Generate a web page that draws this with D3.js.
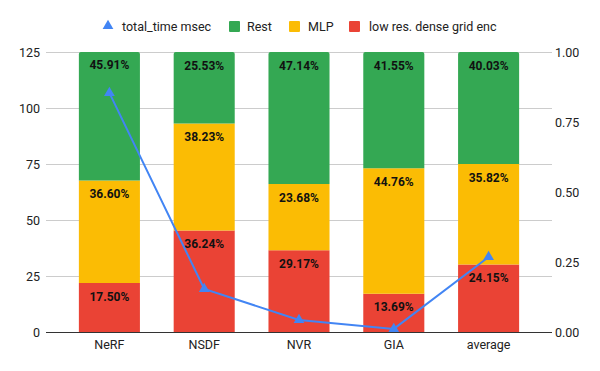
<!DOCTYPE html>
<html><head><meta charset="utf-8">
<script src="https://cdnjs.cloudflare.com/ajax/libs/d3/7.8.5/d3.min.js"></script>
<style>body{margin:0;background:#fff}svg{display:block}</style>
</head><body><svg id="c" width="600" height="371"></svg>
<script>
const categories = ["NeRF","NSDF","NVR","GIA","average"];
const gridEnc = [17.50,36.24,29.17,13.69,24.15];
const mlp = [36.60,38.23,23.68,44.76,35.82];
const rest = [45.91,25.53,47.14,41.55,40.03];
const totalTime = [0.854,0.154,0.043,0.011,0.268];
const leftTicks = [0,25,50,75,100,125];
const rightTicks = [0,0.25,0.5,0.75,1.0];
const seriesNames = ["total_time msec","Rest","MLP","low res. dense grid enc"];
const colors = {grid:"#ea4335", mlp:"#fbbc04", rest:"#34a853", line:"#4285f4"};

(function(){
const svg = d3.select("#c");
const pl=46, pr=552, pt=52, pb=332;
const x = d3.scaleBand().domain(categories).range([62,536]).paddingInner(0.356).paddingOuter(0.178);
const yAxisScale = d3.scaleLinear().domain([0,125]).range([pb,pt]);
const yPct = d3.scaleLinear().domain([0,100]).range([pb,pt]);
const yR = d3.scaleLinear().domain([0,1]).range([pb,pt]);
const font = "Roboto, Arial, sans-serif";

svg.append("g").selectAll("line").data(leftTicks.slice(1)).join("line")
  .attr("x1",pl).attr("x2",pr)
  .attr("y1",d=>yAxisScale(d)+0.5).attr("y2",d=>yAxisScale(d)+0.5)
  .attr("stroke","#cccccc").attr("stroke-width",1);

const la = d3.axisLeft(yAxisScale).tickValues(leftTicks).tickSize(0).tickPadding(0);
svg.append("g").attr("transform",`translate(40,0)`).call(la)
  .call(g=>g.select(".domain").remove())
  .call(g=>g.selectAll("text").attr("font-family",font).attr("font-size",12.5).attr("fill","#222"));
const ra = d3.axisRight(yR).tickValues(rightTicks).tickFormat(d3.format(".2f")).tickSize(0).tickPadding(0);
svg.append("g").attr("transform",`translate(555,0)`).call(ra)
  .call(g=>g.select(".domain").remove())
  .call(g=>g.selectAll("text").attr("font-family",font).attr("font-size",12.5).attr("fill","#222"));

const rows = categories.map((c,i)=>({cat:c, grid:gridEnc[i], mlp:mlp[i], rest:rest[i]}));
const stack = d3.stack().keys(["grid","mlp","rest"])(rows);
const bw = x.bandwidth();
function segPath(x0,y0,y1,w,r){
  return `M${x0},${y0}V${y1+r}Q${x0},${y1} ${x0+r},${y1}H${x0+w-r}Q${x0+w},${y1} ${x0+w},${y1+r}V${y0}Z`;
}
stack.forEach(layer=>{
  const g = svg.append("g");
  g.selectAll("path").data(layer).join("path")
    .attr("d",d=>segPath(x(d.data.cat), yPct(d[0]), yPct(d[1]), bw, layer.key==="rest"?2:0))
    .attr("fill",colors[layer.key]);
  g.selectAll("text").data(layer).join("text")
    .attr("x",d=>x(d.data.cat)+bw/2).attr("y",d=>yPct(d[1])+17.5)
    .attr("text-anchor","middle").attr("font-family",font)
    .attr("font-weight","bold").attr("font-size",12).attr("fill","#111")
    .text(d=>d.data[layer.key].toFixed(2)+"%");
});

svg.append("line").attr("x1",pl).attr("x2",pr).attr("y1",pb+0.5).attr("y2",pb+0.5).attr("stroke","#333").attr("stroke-width",1);

const xa = d3.axisBottom(x).tickSize(0).tickPadding(0);
svg.append("g").attr("transform",`translate(0,${pb+8})`).call(xa)
  .call(g=>g.select(".domain").remove())
  .call(g=>g.selectAll("text").attr("font-family",font).attr("font-size",12.5).attr("fill","#222"));

const line = d3.line().x((d,i)=>x(categories[i])+bw/2).y(d=>yR(d));
svg.append("path").datum(totalTime).attr("d",line).attr("fill","none").attr("stroke",colors.line).attr("stroke-width",2);
const tri = d3.symbol().type(d3.symbolTriangle).size(50);
svg.append("g").selectAll("path").data(totalTime).join("path")
  .attr("transform",(d,i)=>`translate(${x(categories[i])+bw/2},${yR(d)})`)
  .attr("d",tri).attr("fill",colors.line);

const lg = svg.append("g").attr("font-family",font).attr("font-size",12.5).attr("fill","#222");
lg.append("path").attr("transform","translate(108,26)").attr("d",d3.symbol().type(d3.symbolTriangle).size(50)).attr("fill",colors.line);
lg.append("text").attr("x",122).attr("y",31).text(seriesNames[0]);
const sq = [[229,colors.rest,247,seriesNames[1]],[289,colors.mlp,308,seriesNames[2]],[349,colors.grid,369,seriesNames[3]]];
sq.forEach(s=>{
  lg.append("rect").attr("x",s[0]).attr("y",21).attr("width",11).attr("height",11).attr("rx",1).attr("fill",s[1]);
  lg.append("text").attr("x",s[2]).attr("y",31).text(s[3]);
});
})();
</script></body></html>
